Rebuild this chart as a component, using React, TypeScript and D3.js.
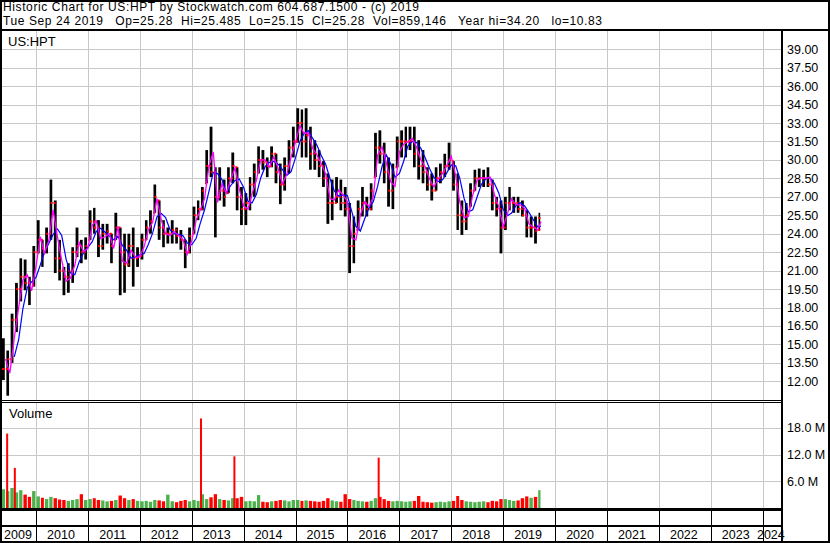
import React from "react";
import * as d3 from "d3";

const W = 830;
const H = 543;
const FONT = "'Liberation Sans', Arial, sans-serif";

// monthly bars, May 2009 .. Sep 2019
const firstMonth = new Date(2009, 4, 1);
const lastDay = new Date(2019, 8, 24);

const highs = [
  15.5, 14.5, 17.5, 20.0, 22.0, 21.9, 20.5, 23.0,
  25.1, 23.5, 24.5, 28.4, 26.7, 23.5, 21.3, 21.6, 22.9, 24.5, 23.5, 23.7,
  25.9, 26.1, 25.1, 24.8, 24.8, 24.0, 25.7, 24.5, 24.0, 24.0, 24.5, 22.9,
  24.0, 25.1, 25.9, 28.0, 26.7, 25.1, 24.5, 25.1, 24.5, 24.3, 23.5, 24.5,
  26.2, 26.7, 27.8, 30.8, 32.7, 29.4, 29.4, 28.4, 29.4, 30.6, 29.4, 27.8,
  27.3, 28.6, 29.7, 31.1, 30.8, 30.2, 31.1, 30.5, 29.7, 30.2, 31.6, 32.7,
  34.2, 34.1, 34.2, 32.7, 31.6, 30.8, 29.9, 28.9, 28.4, 28.6, 28.4, 27.8,
  26.5, 25.4, 26.7, 27.8, 27.0, 28.1, 32.2, 32.4, 31.4, 30.2, 29.7, 31.9,
  32.4, 32.7, 32.7, 32.7, 31.6, 30.8, 29.4, 28.9, 29.4, 29.7, 30.5, 31.4,
  29.9, 28.9, 26.7, 26.5, 28.1, 29.2, 29.3, 29.2, 29.4, 28.4, 27.0, 26.7,
  27.0, 27.8, 27.0, 27.0, 26.7, 25.9, 25.4, 25.4, 25.7,
];

const lows = [
  12.1, 10.83, 13.5, 16.0, 18.5, 19.4, 18.2, 19.7,
  22.4, 21.3, 22.4, 23.5, 20.8, 20.2, 19.0, 19.2, 20.0, 22.1, 21.6, 21.9,
  23.5, 24.0, 22.1, 22.7, 23.2, 21.6, 23.5, 19.0, 19.2, 21.3, 19.7, 21.3,
  21.9, 23.5, 24.0, 25.7, 23.5, 22.9, 23.2, 23.2, 23.2, 22.7, 21.2, 22.4,
  24.0, 25.1, 25.9, 28.1, 28.6, 23.7, 26.7, 26.2, 27.3, 28.1, 25.9, 24.7,
  24.7, 25.9, 27.0, 28.9, 29.2, 28.6, 29.4, 28.1, 26.4, 27.5, 28.9, 30.2,
  31.4, 30.2, 30.2, 29.2, 29.2, 28.6, 27.8, 24.8, 25.1, 26.5, 25.9, 25.4,
  20.8, 21.6, 24.3, 25.4, 25.4, 25.9, 28.6, 29.7, 28.1, 26.2, 26.0, 29.4,
  30.2, 30.2, 30.8, 29.4, 28.4, 28.1, 27.5, 26.7, 27.5, 28.1, 28.6, 29.2,
  27.5, 24.3, 23.9, 24.3, 26.2, 27.5, 27.8, 27.8, 27.8, 25.9, 25.4, 22.4,
  24.3, 25.9, 25.7, 25.7, 25.4, 23.7, 23.7, 23.2, 24.3,
];

const closes = [
  13.0, 13.8, 17.0, 19.5, 20.5, 20.0, 19.8, 22.5,
  23.5, 22.8, 24.0, 26.5, 22.0, 21.0, 20.5, 21.0, 22.5, 23.0, 22.5, 23.0,
  25.0, 24.5, 23.0, 24.0, 24.2, 23.0, 24.5, 22.5, 21.5, 23.0, 22.0, 22.2,
  23.5, 24.5, 25.0, 27.0, 24.5, 24.0, 24.0, 24.3, 23.8, 23.5, 22.5, 23.8,
  25.5, 26.0, 27.5, 29.5, 29.0, 27.0, 27.5, 27.0, 28.5, 29.5, 27.0, 26.0,
  26.5, 28.0, 29.0, 30.0, 29.8, 29.5, 30.5, 29.0, 28.0, 29.5, 31.0, 31.5,
  33.0, 31.5, 32.0, 30.5, 30.0, 29.5, 28.5, 26.5, 26.5, 27.0, 26.5, 26.0,
  23.0, 24.0, 26.0, 26.5, 26.0, 27.5, 31.0, 30.5, 29.0, 27.5, 29.0, 31.5,
  31.5, 31.5, 31.5, 30.5, 29.5, 29.0, 28.0, 27.5, 28.5, 29.0, 29.5, 30.0,
  28.0, 25.5, 25.0, 25.5, 27.5, 28.5, 28.5, 28.5, 28.0, 26.5, 26.0, 24.5,
  26.5, 26.5, 26.5, 26.0, 25.5, 24.5, 24.5, 24.2, 25.28,
];

// typical daily volume per month, millions
const volumes = [
  4.2, 3.8, 4.5, 3.5, 4.0, 3.0, 2.5, 3.8,
  2.6, 2.3, 2.0, 2.5, 2.2, 1.9, 1.8, 1.6, 1.8, 2.0, 3.1, 1.8,
  2.0, 2.2, 1.8, 1.7, 1.5, 1.6, 1.8, 2.8, 2.2, 1.8, 2.0, 1.6,
  1.5, 1.6, 1.4, 1.8, 1.7, 1.5, 3.0, 1.5, 1.3, 1.6, 1.8, 1.5,
  1.8, 1.6, 3.1, 2.0, 2.4, 3.1, 2.0, 1.8, 1.7, 2.2, 2.2, 2.5,
  1.5, 1.6, 1.5, 2.9, 1.4, 1.3, 1.5, 1.6, 1.8, 1.7, 1.5, 1.8,
  1.8, 1.6, 1.7, 1.6, 1.5, 1.4, 1.6, 2.2, 1.7, 1.5, 1.4, 3.1,
  2.0, 1.8, 1.6, 1.5, 1.4, 1.6, 2.2, 2.5, 2.0, 1.6, 1.5, 1.6,
  1.5, 1.4, 1.5, 1.6, 2.7, 1.4, 1.3, 1.2, 1.3, 1.4, 1.3, 1.5,
  1.6, 2.7, 1.8, 1.5, 1.4, 1.3, 1.4, 1.5, 1.3, 1.6, 1.5, 2.0,
  2.0, 1.8, 1.6, 1.7, 2.2, 2.6, 2.3, 2.5, 4.0,
];

// single-day volume spikes
const spikeDates = ["2009-06-12", "2009-08-05", "2013-03-07", "2013-10-28", "2016-08-08"];
const spikeVols = [16.7, 9.0, 20.1, 11.6, 11.3];

const priceTicks = d3.range(12, 39.01, 1.5);
const volTicks = [6, 12, 18];
const years = d3.range(2009, 2025);

const header1 = "Historic Chart for US:HPT by Stockwatch.com 604.687.1500 - (c) 2019";
const header2 =
  "Tue Sep 24 2019   Op=25.28  Hi=25.485  Lo=25.15  Cl=25.28  Vol=859,146   Year hi=34.20   lo=10.83";

const App = () => {
  const months = d3.timeMonth.range(firstMonth, d3.timeMonth.offset(lastDay, 1));

  const x = d3
    .scaleTime()
    .domain([new Date(2010, 0, 1), new Date(2024, 0, 1)])
    .range([36, 762.7]);
  const yP = d3.scaleLinear().domain([12, 39]).range([381.3, 49.2]);
  const yV = d3.scaleLinear().domain([0, 18]).range([508, 427.8]);

  const plotL = 2;
  const plotR = 781;
  const priceTop = 31;
  const priceBot = 400;
  const volTop = 402;
  const volBot = 509;

  const mids = highs.map((h, i) => (h + lows[i]) / 2);
  const monthEnd = (i) => {
    const e = d3.timeMonth.offset(months[i], 1);
    return e > lastDay ? lastDay : e;
  };

  const fastPts = mids.map((m, i) => [x(monthEnd(i)), yP(m)]);
  const slowPts = mids
    .map((m, i) => (i < 2 ? null : [x(monthEnd(i)), yP(d3.mean(mids.slice(i - 2, i + 1)))]))
    .filter(Boolean);
  const line = d3.line();

  const r = (v) => Math.round(v) + 0.5;

  return (
    <svg
      width={W}
      height={H}
      style={{ position: "absolute", left: 0, top: 0, background: "#fff" }}
      fontFamily={FONT}
    >
      <defs>
        <clipPath id="pc">
          <rect x={plotL} y={priceTop} width={plotR - plotL} height={priceBot - priceTop} />
        </clipPath>
        <clipPath id="vc">
          <rect x={plotL} y={volTop} width={plotR - plotL} height={volBot - volTop} />
        </clipPath>
      </defs>
      <rect x={0} y={0} width={W} height={H} fill="#fff" />

      {/* header */}
      <text
        x={3}
        y={10.5}
        fontSize={12}
        fill="#000"
        style={{ whiteSpace: "pre" }}
        textLength={416}
        lengthAdjust="spacing"
      >
        {header1}
      </text>
      <text
        x={3}
        y={24.5}
        fontSize={12}
        fill="#000"
        style={{ whiteSpace: "pre" }}
        textLength={599}
        lengthAdjust="spacing"
      >
        {header2}
      </text>

      {/* grids */}
      <g stroke="#c8c8c8" strokeWidth={1} shapeRendering="crispEdges">
        {priceTicks.map((t) => (
          <line key={"p" + t} x1={plotL} x2={plotR} y1={r(yP(t))} y2={r(yP(t))} />
        ))}
        {volTicks.map((t) => (
          <line key={"v" + t} x1={plotL} x2={plotR} y1={r(yV(t))} y2={r(yV(t))} />
        ))}
        {years.slice(1).map((yr) => {
          const xx = r(x(new Date(yr, 0, 1)));
          return (
            <g key={"g" + yr}>
              <line x1={xx} x2={xx} y1={priceTop} y2={priceBot} />
              <line x1={xx} x2={xx} y1={volTop} y2={volBot} />
            </g>
          );
        })}
      </g>

      {/* price bars */}
      <g clipPath="url(#pc)">
        {months.map((m, i) => {
          const x0 = x(m);
          const x1 = x(monthEnd(i));
          return (
            <rect
              key={"b" + i}
              x={x0 + 0.8}
              width={Math.max(1.5, x1 - x0 - 1.6)}
              y={yP(highs[i])}
              height={yP(lows[i]) - yP(highs[i])}
              fill="#000"
            />
          );
        })}
        {months.map((m, i) => {
          const x0 = x(m);
          const x1 = x(monthEnd(i));
          const open = i === 0 ? closes[0] : closes[i - 1];
          return (
            <g key={"d" + i} fill="#ff0000">
              <rect x={x0 + 0.5} y={yP(Math.min(Math.max(open, lows[i]), highs[i])) - 1} width={2} height={2} />
              <rect x={x1 - 2.5} y={yP(closes[i]) - 1} width={2} height={2} />
            </g>
          );
        })}
        <path d={line(slowPts)} fill="none" stroke="#0000ff" strokeWidth={1.2} />
        <path d={line(fastPts)} fill="none" stroke="#ff00ff" strokeWidth={1.3} />
      </g>

      {/* volume */}
      <g clipPath="url(#vc)">
        {months.map((m, i) => {
          const x0 = x(m);
          const x1 = x(monthEnd(i));
          const up = i === 0 ? true : closes[i] >= closes[i - 1];
          return (
            <rect
              key={"v" + i}
              x={x0 + 0.5}
              width={Math.max(1.5, x1 - x0 - 1)}
              y={yV(volumes[i])}
              height={yV(0) - yV(volumes[i])}
              fill={up ? "#4cb04c" : "#ff0000"}
            />
          );
        })}
        {spikeDates.map((d, i) => {
          const xx = x(new Date(d));
          return (
            <rect
              key={"s" + i}
              x={xx - 1}
              width={2}
              y={yV(spikeVols[i])}
              height={yV(0) - yV(spikeVols[i])}
              fill="#ff0000"
            />
          );
        })}
      </g>

      {/* frame */}
      <g stroke="#000" shapeRendering="crispEdges" fill="none">
        <line x1={0} x2={W} y1={0.5} y2={0.5} strokeWidth={2} />
        <line x1={1} x2={1} y1={0} y2={H} strokeWidth={2} />
        <line x1={W - 1} x2={W - 1} y1={0} y2={H} strokeWidth={2} />
        <line x1={0} x2={W} y1={H - 1.5} y2={H - 1.5} strokeWidth={2} />
        <line x1={0} x2={W} y1={30} y2={30} strokeWidth={2.5} />
        <line x1={782} x2={782} y1={30} y2={H} strokeWidth={2} />
        <line x1={0} x2={782} y1={400.5} y2={400.5} strokeWidth={1} />
        <line x1={0} x2={782} y1={402.5} y2={402.5} strokeWidth={1} />
        <line x1={0} x2={782} y1={509.5} y2={509.5} strokeWidth={2.5} />
        <line x1={0} x2={782} y1={526} y2={526} strokeWidth={2} />
        {years.slice(1).map((yr) => {
          const xx = r(x(new Date(yr, 0, 1)));
          return <line key={"s" + yr} x1={xx} x2={xx} y1={510} y2={H - 2} strokeWidth={1.5} />;
        })}
      </g>

      {/* labels */}
      <text x={8} y={46} fontSize={13} fill="#000">US:HPT</text>
      <text x={9} y={417.5} fontSize={13} fill="#000">Volume</text>

      {priceTicks.map((t) => (
        <text key={"pl" + t} x={787} y={yP(t) + 4.5} fontSize={12.5} fill="#000">
          {t.toFixed(2)}
        </text>
      ))}
      {volTicks.map((t) => (
        <text key={"vl" + t} x={787} y={yV(t) + 4.5} fontSize={12.5} fill="#000">
          {t.toFixed(1) + " M"}
        </text>
      ))}

      {years.map((yr) => {
        const a = Math.max(plotL, x(new Date(yr, 0, 1)));
        const b = Math.min(plotR, x(new Date(yr + 1, 0, 1)));
        return (
          <text
            key={"y" + yr}
            x={(a + b) / 2 - 1}
            y={539}
            fontSize={12.5}
            textAnchor="middle"
            fill="#000"
          >
            {yr}
          </text>
        );
      })}
    </svg>
  );
};

export default App;
